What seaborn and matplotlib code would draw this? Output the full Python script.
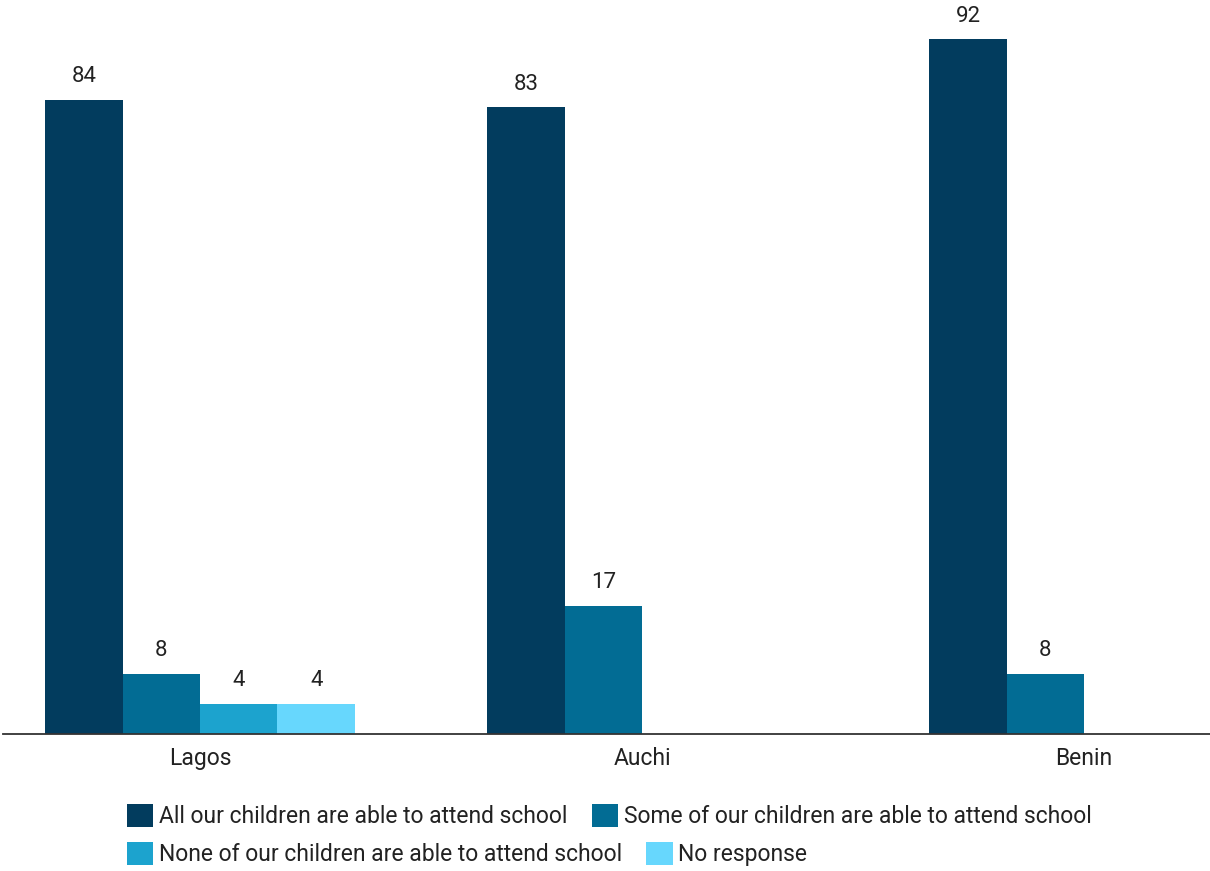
import seaborn as sns
import matplotlib.pyplot as plt
import pandas as pd
from matplotlib.patches import Patch

cities = ['Lagos', 'Auchi', 'Benin']
responses = ['All our children are able to attend school',
             'Some of our children are able to attend school',
             'None of our children are able to attend school',
             'No response']
all_able = [84, 83, 92]
some_able = [8, 17, 8]
none_able = [4, 0, 0]
no_response = [4, 0, 0]
colors = ['#023c5e', '#026c94', '#1ca3ce', '#67d7fd']

df = pd.DataFrame({
    'city': cities * 4,
    'response': [r for r in responses for _ in cities],
    'value': all_able + some_able + none_able + no_response,
})

sns.set_style('white')
plt.rcParams['font.family'] = ['Roboto', 'DejaVu Sans']

fig = plt.figure(figsize=(12.1, 8.71), dpi=100)
ax = fig.add_axes([3 / 1210, 137 / 871, 1 - 3 / 1210, 734 / 871])

sns.barplot(data=df, x='city', y='value', hue='response', order=cities,
            hue_order=responses, palette=colors, saturation=1, width=0.7,
            errorbar=None, linewidth=0, legend=False, ax=ax)

# value labels, skip the empty bars
for c in ax.containers:
    labels = [f'{v:g}' if v > 0 else '' for v in c.datavalues]
    ax.bar_label(c, labels=labels, padding=9, fontsize=16, color='#222222')

ax.set_xlim(-0.446, 2.285)
ax.set_ylim(0, 97.2)
ax.set_xlabel('')
ax.set_ylabel('')
ax.set_yticks([])
ax.tick_params(axis='x', length=0, pad=9, labelsize=16.5, labelcolor='#222222')
for s in ['top', 'right', 'left']:
    ax.spines[s].set_visible(False)
ax.spines['bottom'].set_color('#333333')
ax.spines['bottom'].set_linewidth(1.3)

# two legend rows, both left aligned
handles = [Patch(facecolor=col, edgecolor='none') for col in colors]
kw = dict(frameon=False, fontsize=16.5, handlelength=1.15, handleheight=1.2,
          handletextpad=0.25, columnspacing=1.05, borderpad=0, borderaxespad=0,
          labelcolor='#222222')
leg1 = fig.legend(handles[:2], responses[:2], ncol=2, loc='center left',
                  bbox_to_anchor=(127 / 1210, 1 - 816 / 871), **kw)
leg2 = fig.legend(handles[2:], responses[2:], ncol=2, loc='center left',
                  bbox_to_anchor=(127 / 1210, 1 - 854 / 871), **kw)

fig.savefig('out.png', dpi=100)
